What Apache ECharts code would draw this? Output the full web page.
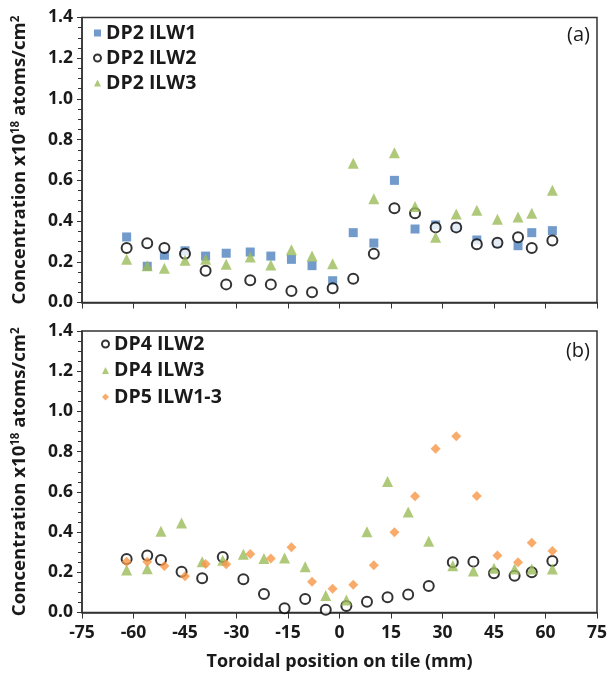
<!DOCTYPE html>
<html><head><meta charset="utf-8">
<script src="https://cdn.jsdelivr.net/npm/echarts@6/dist/echarts.min.js"></script>
<style>html,body{margin:0;padding:0;background:#fff}#c{width:609px;height:673px}</style>
</head><body><div id="c"></div>
<script>
// Panel (a)
const xA = [-62,-56,-51,-45,-39,-33,-26,-20,-14,-8,-2,4,10,16,22,28,34,40,46,52,56,62];
const dp2ilw1 = [0.322,0.178,0.232,0.254,0.228,0.242,0.248,0.228,0.212,0.181,0.107,0.343,0.292,0.600,0.361,0.381,0.369,0.307,0.292,0.279,0.343,0.353];
const dp2ilw2 = [0.268,0.291,0.268,0.240,0.156,0.089,0.109,0.089,0.056,0.050,0.070,0.117,0.240,0.463,0.438,0.369,0.369,0.286,0.294,0.320,0.268,0.304];
const dp2ilw3 = [0.212,0.181,0.168,0.207,0.212,0.188,0.223,0.184,0.259,0.228,0.190,0.684,0.510,0.736,0.472,0.320,0.435,0.453,0.409,0.420,0.438,0.551];
// Panel (b)
const xB = [-62,-56,-52,-46,-40,-34,-28,-22,-16,-10,-4,2,8,14,20,26,33,39,45,51,56,62];
const dp4ilw2 = [0.266,0.283,0.261,0.203,0.170,0.276,0.165,0.092,0.021,0.067,0.014,0.032,0.054,0.076,0.089,0.132,0.250,0.253,0.195,0.183,0.200,0.256];
const dp4ilw3 = [0.211,0.218,0.404,0.445,0.253,0.260,0.290,0.268,0.271,0.228,0.084,0.062,0.402,0.651,0.500,0.354,0.233,0.206,0.220,0.216,0.216,0.216];
const xC = [-62,-56,-51,-45,-39,-33,-26,-20,-14,-8,-2,4,10,16,22,28,34,40,46,52,56,62];
const dp5ilw13 = [0.253,0.253,0.231,0.180,0.241,0.240,0.291,0.268,0.324,0.153,0.118,0.138,0.235,0.399,0.578,0.815,0.877,0.580,0.283,0.250,0.347,0.306];

const pairs = (xs, ys) => xs.map((x, i) => [x, ys[i]]);
const FONT = 'Open Sans';
const axisColor = '#333';
const txt = '#1a1a1a';

function yAx(gi) {
  return {
    gridIndex: gi, type: 'value', min: 0, max: 1.4, interval: 0.2,
    name: '{a|Concentration x10}{s|18}{a| atoms/cm}{s|2}',
    nameLocation: 'middle', nameGap: 53,
    nameTextStyle: { rich: {
      a: { fontFamily: FONT, fontWeight: 'bold', fontSize: 18.6, color: txt },
      s: { fontFamily: FONT, fontWeight: 'bold', fontSize: 11.5, color: txt, verticalAlign: 'top', padding: [0,0,7,0] }
    }},
    axisLine: { show: true, onZero: false, lineStyle: { color: axisColor, width: 1.5 } },
    axisTick: { show: true, inside: false, length: 5, lineStyle: { color: axisColor } },
    minorTick: { show: true, splitNumber: 4, length: 4, lineStyle: { color: axisColor } },
    splitLine: { show: false },
    axisLabel: { fontFamily: FONT, fontWeight: 'bold', fontSize: 17.5, color: txt, margin: 9,
      formatter: v => v.toFixed(1) }
  };
}
function xAx(gi, labels) {
  const o = {
    gridIndex: gi, type: 'value', min: -75, max: 75, interval: 15,
    axisLine: { show: true, onZero: false, lineStyle: { color: axisColor, width: 1.5 } },
    axisTick: { show: true, inside: false, length: 6, lineStyle: { color: axisColor } },
    splitLine: { show: false },
    axisLabel: { show: labels, fontFamily: FONT, fontWeight: 'bold', fontSize: 17.5, color: txt, margin: 12 }
  };
  if (labels) {
    o.name = 'Toroidal position on tile (mm)';
    o.nameLocation = 'middle'; o.nameGap = 40;
    o.nameTextStyle = { fontFamily: FONT, fontWeight: 'bold', fontSize: 18, color: txt };
  }
  return o;
}
const blue = '#4F81BD', green = '#9BBB59', orange = '#F79646';
function sq(name, data, xi) { return { name, type: 'scatter', xAxisIndex: xi, yAxisIndex: xi, data, symbol: 'rect', symbolSize: 9, itemStyle: { color: blue } }; }
function circ(name, data, xi) { return { name, type: 'scatter', xAxisIndex: xi, yAxisIndex: xi, data, symbol: 'circle', symbolSize: 10, itemStyle: { color: '#fff', borderColor: '#000', borderWidth: 2 } }; }
function tri(name, data, xi) { return { name, type: 'scatter', xAxisIndex: xi, yAxisIndex: xi, data, symbol: 'triangle', symbolSize: 11, itemStyle: { color: green } }; }
function dia(name, data, xi) { return { name, type: 'scatter', xAxisIndex: xi, yAxisIndex: xi, data, symbol: 'diamond', symbolSize: 10, itemStyle: { color: orange } }; }

const legendText = { fontFamily: FONT, fontWeight: 'bold', fontSize: 19.5, color: txt };
const chart = echarts.init(document.getElementById('c'), null, { renderer: 'canvas' });
chart.setOption({
  animation: false,
  backgroundColor: '#fff',
  grid: [
    { left: 82, right: 12, top: 17.5, height: 285, show: true, borderColor: axisColor, borderWidth: 1.5, outerBoundsMode: 'none', containLabel: false },
    { left: 82, right: 12, top: 331, height: 281.5, show: true, borderColor: axisColor, borderWidth: 1.5, outerBoundsMode: 'none', containLabel: false }
  ],
  xAxis: [xAx(0, false), xAx(1, true)],
  yAxis: [yAx(0), yAx(1)],
  legend: [
    { data: ['DP2 ILW1', 'DP2 ILW2', 'DP2 ILW3'], orient: 'vertical', left: 88, top: 18, itemWidth: 7, itemHeight: 7, itemGap: 5, textStyle: legendText },
    { data: ['DP4 ILW2', 'DP4 ILW3', 'DP5 ILW1-3'], orient: 'vertical', left: 96, top: 329, itemWidth: 7, itemHeight: 7, itemGap: 6.5, textStyle: legendText }
  ],
  graphic: [
    { type: 'text', right: 19, top: 25, style: { text: '(a)', fontFamily: FONT, fontSize: 20, fill: txt } },
    { type: 'text', right: 19, top: 341, style: { text: '(b)', fontFamily: FONT, fontSize: 20, fill: txt } }
  ],
  series: [
    sq('DP2 ILW1', pairs(xA, dp2ilw1), 0),
    circ('DP2 ILW2', pairs(xA, dp2ilw2), 0),
    tri('DP2 ILW3', pairs(xA, dp2ilw3), 0),
    circ('DP4 ILW2', pairs(xB, dp4ilw2), 1),
    tri('DP4 ILW3', pairs(xB, dp4ilw3), 1),
    dia('DP5 ILW1-3', pairs(xC, dp5ilw13), 1)
  ]
});
</script></body></html>
